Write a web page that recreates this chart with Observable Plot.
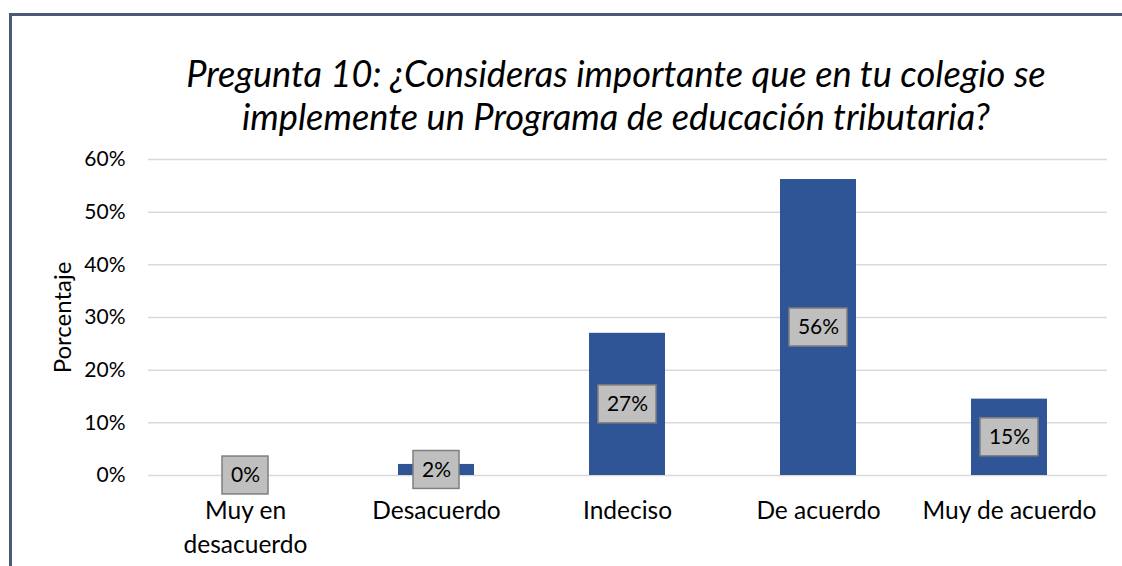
<!DOCTYPE html>
<html>
<head>
<meta charset="utf-8">
<script src="https://cdn.jsdelivr.net/npm/d3@7"></script>
<script src="https://cdn.jsdelivr.net/npm/@observablehq/plot@0.6"></script>
<style>
  html, body { margin: 0; padding: 0; background: #fff; }
  #wrap { position: relative; width: 1122px; height: 566px; overflow: hidden; background: #fff; font-family: Lato, "Noto Sans", sans-serif; }
  #frame { position: absolute; left: 9px; top: 13px; width: 1300px; height: 700px; border-top: 3px solid #4B5876; border-left: 3px solid #4B5876; pointer-events: none; }
  #title { display: block; }
  #chart svg { display: block; }
</style>
</head>
<body>
<div id="wrap">
  <svg id="title" width="1122" height="140"></svg>
  <div id="chart"></div>
  <div id="frame"></div>
</div>
<script>
const categories = ["Muy en\ndesacuerdo", "Desacuerdo", "Indeciso", "De acuerdo", "Muy de acuerdo"];
const values = [0, 2.1, 27, 56.2, 14.5];
const yTicks = [0, 10, 20, 30, 40, 50, 60];
const titleLines = ["Pregunta 10: ¿Consideras importante que en tu colegio se", "implemente un Programa de educación tributaria?"];
const yLabel = "Porcentaje";

const data = categories.map((c, i) => ({cat: c, value: values[i], label: Math.round(values[i]) + "%"}));

// Title (font size fitted to the reference width)
const FONT = "Lato";
const cvs = document.createElement("canvas").getContext("2d");
cvs.font = `italic 100px ${FONT}`;
const w100 = cvs.measureText(titleLines[0]).width;
const titleSize = Math.min(37, 100 * 860 / w100);
const tsvg = d3.select("#title");
titleLines.forEach((t, i) => {
  tsvg.append("text")
    .attr("x", 616).attr("y", i === 0 ? 87 : 130)
    .attr("text-anchor", "middle")
    .attr("font-family", FONT)
    .attr("font-style", "italic")
    .attr("font-size", titleSize)
    .attr("fill", "#000")
    .text(t);
});

const boxH = 3.6; // half height of the label boxes, in % units
const short = data.filter(d => d.label.length <= 2);
const long = data.filter(d => d.label.length > 2);

const plot = Plot.plot({
  width: 1122,
  height: 426,
  marginLeft: 148,
  marginRight: 15,
  marginTop: 19,
  marginBottom: 91,
  style: {fontFamily: FONT, fontSize: "24px", color: "#000", background: "transparent"},
  x: {domain: categories, paddingInner: 0.6, paddingOuter: 0.3, label: null},
  y: {domain: [0, 60], label: null},
  marks: [
    Plot.gridY(yTicks, {stroke: "#D9D9D9", strokeOpacity: 1, strokeWidth: 1.5}),
    Plot.barY(data, {x: "cat", y: "value", fill: "#2F5597"}),
    Plot.barY(short, {x: "cat", y1: d => d.value / 2 - boxH, y2: d => d.value / 2 + boxH, fill: "#BFBFBF", stroke: "#7F7F7F", strokeWidth: 1.5, insetLeft: 15, insetRight: 15}),
    Plot.barY(long, {x: "cat", y1: d => d.value / 2 - boxH, y2: d => d.value / 2 + boxH, fill: "#BFBFBF", stroke: "#7F7F7F", strokeWidth: 1.5, insetLeft: 9, insetRight: 9}),
    Plot.text(data, {x: "cat", y: d => d.value / 2, text: "label", fontSize: 21, fill: "#000"}),
    Plot.axisY({ticks: yTicks, tickFormat: d => d + "%", tickSize: 0, tickPadding: 23, fontSize: 21, label: null}),
    Plot.axisX({tickSize: 0, tickPadding: 19, fontSize: 24.5, lineHeight: 1.39, label: null}),
    Plot.text([yLabel], {frameAnchor: "left", dx: -85, rotate: -90, textAnchor: "middle", fontSize: 24, fill: "#000"})
  ]
});
document.getElementById("chart").appendChild(plot);
</script>
</body>
</html>
